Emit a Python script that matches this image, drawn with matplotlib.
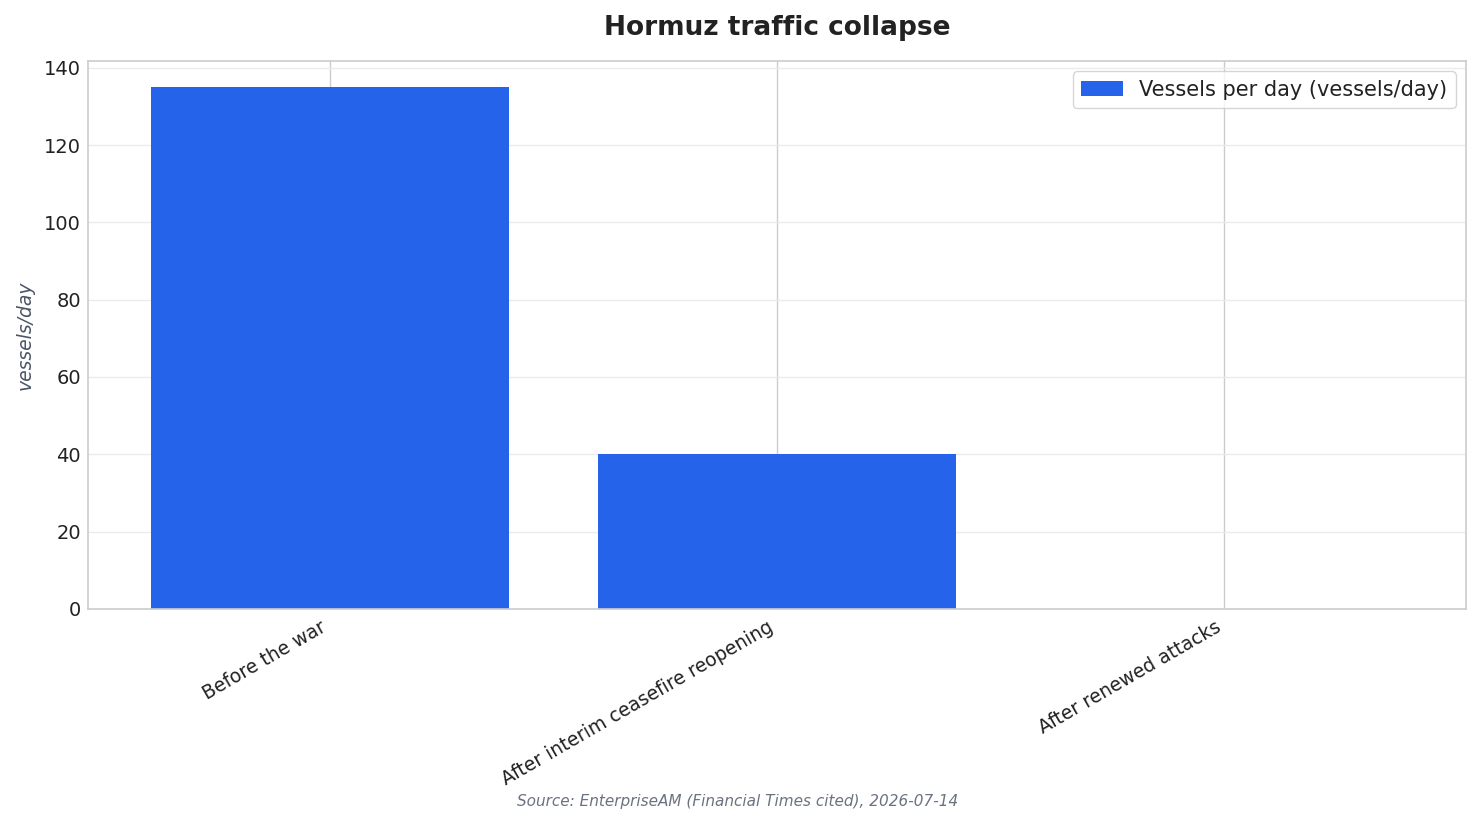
import numpy as np
import matplotlib
matplotlib.use("Agg")
import matplotlib.pyplot as plt

# datos del grafico
periodos = ['Before the war', 'After interim ceasefire reopening', 'After renewed attacks']
buques_dia = [135, 40, 0]

plt.rcParams['font.family'] = ['DejaVu Sans']

fig, ax = plt.subplots(figsize=(14.81, 8.24), dpi=100)
fig.subplots_adjust(left=0.0594, right=0.9899, top=0.926, bottom=0.261)

x = np.arange(len(periodos))
ax.bar(x, buques_dia, width=0.8, color='#2563eb', label='Vessels per day (vessels/day)', zorder=2)

ax.set_xticks(x)
ax.set_xticklabels(periodos, rotation=30, ha='right', fontsize=13.5, color='#222222')
ax.tick_params(axis='y', labelsize=14, colors='#222222', length=0, pad=5)
ax.tick_params(axis='x', length=0, pad=6)

# rejilla: vertical mas oscura, horizontal suave
ax.set_axisbelow(True)
ax.grid(axis='x', color='#cccccc', linewidth=1.0)
ax.grid(axis='y', color='#ebebeb', linewidth=1.0)
for s in ax.spines.values():
    s.set_color('#cccccc')
    s.set_linewidth(1.2)

ax.set_ylabel('vessels/day', fontsize=13.5, style='italic', color='#4a5568', labelpad=7)
ax.set_title('Hormuz traffic collapse', fontsize=19, fontweight='bold', color='#222222', pad=19)

leg = ax.legend(loc='upper right', fontsize=15, frameon=True, fancybox=True)
leg.get_frame().set_edgecolor('#cccccc')
for t in leg.get_texts():
    t.set_color('#222222')

fig.text(0.498, 0.022, 'Source: EnterpriseAM (Financial Times cited), 2026-07-14',
         ha='center', fontsize=11, style='italic', color='#6b7280')

fig.savefig('out.png', dpi=100)
